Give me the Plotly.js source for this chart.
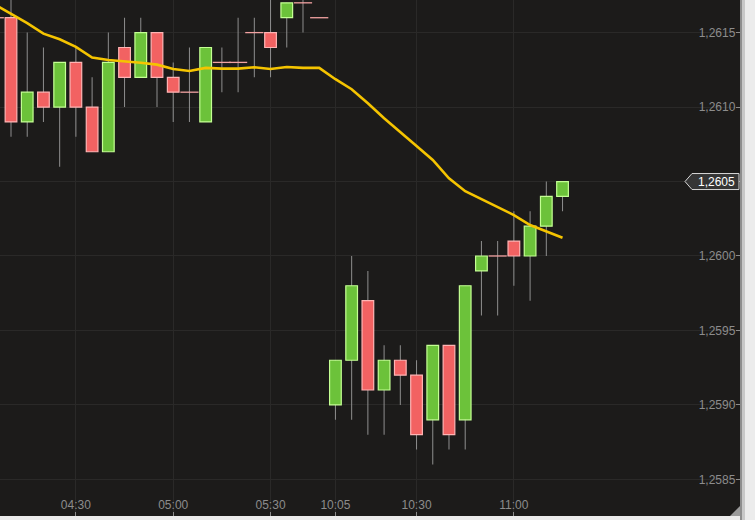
<!DOCTYPE html>
<html>
<head>
<meta charset="utf-8">
<script src="https://cdn.plot.ly/plotly-3.0.1.min.js"></script>
<style>html,body{margin:0;padding:0;background:#e9e9e9;}#chart{width:755px;height:520px;}</style>
</head>
<body>
<div id="chart"></div>
<script>
// 5-minute candles (two sessions)
const times = ["04:05","04:10","04:15","04:20","04:25","04:30","04:35","04:40","04:45","04:50","04:55",
  "05:00","05:05","05:10","05:15","05:20","05:25","05:30","05:35","05:40","05:45",
  "10:05","10:10","10:15","10:20","10:25","10:30","10:35","10:40","10:45","10:50","10:55",
  "11:00","11:05","11:10","11:15"];
const open  = [1.2616,1.2616,1.2609,1.2611,1.2610,1.2613,1.2610,1.2607,1.2614,1.2612,1.2615,
  1.2612,1.2611,1.2609,1.2613,1.2613,1.2615,1.2615,1.2616,1.2617,1.2616,
  1.2590,1.2593,1.2597,1.2591,1.2593,1.2592,1.2589,1.2594,1.2589,1.2599,1.2600,
  1.2601,1.2600,1.2602,1.2604];
const high  = [1.2617,1.2618,1.2615,1.2614,1.2613,1.2614,1.2612,1.2615,1.2616,1.2616,1.2615,
  1.2613,1.2614,1.2614,1.2614,1.2616,1.2616,1.2618,1.2617,1.2618,1.2616,
  1.2593,1.2600,1.2599,1.2594,1.2594,1.2593,1.2594,1.2594,1.2598,1.2601,1.2601,
  1.2603,1.2603,1.2605,1.2605];
const low   = [1.2615,1.2608,1.2608,1.2609,1.2606,1.2608,1.2607,1.2607,1.2610,1.2612,1.2610,
  1.2609,1.2609,1.2609,1.2611,1.2611,1.2612,1.2612,1.2614,1.2615,1.2616,
  1.2589,1.2589,1.2588,1.2588,1.2590,1.2587,1.2586,1.2587,1.2587,1.2596,1.2596,
  1.2598,1.2597,1.2600,1.2603];
const close = [1.2616,1.2609,1.2611,1.2610,1.2613,1.2610,1.2607,1.2613,1.2612,1.2615,1.2612,
  1.2611,1.2611,1.2614,1.2613,1.2613,1.2615,1.2614,1.2617,1.2617,1.2616,
  1.2593,1.2598,1.2591,1.2593,1.2592,1.2588,1.2594,1.2588,1.2598,1.2600,1.2600,
  1.2600,1.2602,1.2604,1.2605];
// moving average line
const maValues = [1.261688,1.261625,1.261563,1.261493,1.261455,1.261404,1.261332,1.261316,1.261308,1.261298,1.261285,
  1.261256,1.261242,1.261263,1.261258,1.261258,1.261267,1.261256,1.261269,1.261263,1.261263,
  1.261187,1.261120,1.261026,1.260925,1.260835,1.260739,1.260645,1.260522,1.260435,1.260381,1.260327,
  1.260275,1.260208,1.260163,1.260123];
const tickTimes = ["04:30","05:00","05:30","10:05","10:30","11:00"];

const UP_FILL = '#6cc23a', UP_LINE = '#c4ff94';
const DN_FILL = '#f26262', DN_LINE = '#ffb4b4';
const DOJI = '#f2a2a2', WICK = '#8e8e8e';

const EPS = 1e-7;
const isDoji = close.map((c, i) => Math.abs(c - open[i]) < EPS);
const bodyBase = open.map((o, i) => isDoji[i] ? null : Math.min(o, close[i]));
const bodyLen = open.map((o, i) => isDoji[i] ? null : Math.abs(close[i] - o));
const bodyFill = open.map((o, i) => close[i] >= o ? UP_FILL : DN_FILL);
const bodyLine = open.map((o, i) => close[i] >= o ? UP_LINE : DN_LINE);

const wicks = {
  type: 'bar', x: times, base: low, y: high.map((h, i) => h - low[i]),
  width: 0.062, marker: {color: WICK, line: {width: 0}}, hoverinfo: 'skip'
};
const bodies = {
  type: 'bar', x: times, base: bodyBase, y: bodyLen,
  width: 0.72, marker: {color: bodyFill, line: {color: bodyLine, width: 1.2}}, hoverinfo: 'skip'
};
const dojis = {
  type: 'scatter', mode: 'markers',
  x: times.filter((t, i) => isDoji[i]), y: close.filter((c, i) => isDoji[i]),
  marker: {symbol: 'line-ew', size: 13, line: {color: DOJI, width: 1.3}}, hoverinfo: 'skip'
};
const ma = {
  type: 'scatter', mode: 'lines', x: times, y: maValues,
  line: {color: '#f5c400', width: 2.6}, hoverinfo: 'skip'
};

const last = close[close.length - 1];
const fmt = v => v.toFixed(4).replace('.', ',');
const tickFont = {family: 'Liberation Sans, Arial, sans-serif', size: 12, color: '#8c8c8c'};

const layout = {
  width: 755, height: 520,
  margin: {l: 0, r: 15, t: 0, b: 4, pad: 0},
  paper_bgcolor: '#ececec', plot_bgcolor: '#1c1b1a',
  separators: ',.',
  showlegend: false, hovermode: false, barmode: 'overlay',
  xaxis: {
    type: 'category', range: [0.322, 45.94], tickmode: 'array', tickvals: tickTimes, ticktext: tickTimes,
    ticks: 'inside', ticklen: 4, tickcolor: '#8c8c8c', ticklabelposition: 'inside',
    showgrid: true, gridcolor: '#2a2928', gridwidth: 1, zeroline: false, showline: false,
    tickfont: tickFont, fixedrange: true
  },
  yaxis: {
    side: 'right', range: [1.258254, 1.261719], tick0: 1.2585, dtick: 0.0005, tickformat: '.4f',
    ticks: 'inside', ticklen: 4, tickcolor: '#8c8c8c', ticklabelposition: 'inside',
    showgrid: true, gridcolor: '#2a2928', gridwidth: 1, zeroline: false, showline: false,
    tickfont: tickFont, fixedrange: true
  },
  shapes: [
    {type: 'rect', xref: 'paper', xsizemode: 'pixel', xanchor: 1, x0: 0, x1: 2, yref: 'paper', y0: -0.02, y1: 1.02,
     fillcolor: '#8e8e8e', line: {width: 0}},
    {type: 'rect', xref: 'paper', xsizemode: 'pixel', xanchor: 1, x0: 2, x1: 5, yref: 'paper', y0: -0.02, y1: 1.02,
     fillcolor: '#c8c8c8', line: {width: 0}},
    {type: 'path', xref: 'paper', xsizemode: 'pixel', xanchor: 1, yref: 'paper', ysizemode: 'pixel', yanchor: 0,
     path: 'M -10,0 L 0,0 L 0,10 Z', fillcolor: '#9a9a9a', line: {width: 0}},
    {type: 'path', xref: 'paper', xsizemode: 'pixel', xanchor: 1, yref: 'y', ysizemode: 'pixel', yanchor: last,
     path: 'M -55,0 L -48,8 L -1,8 L -1,-8 L -48,-8 Z', fillcolor: '#353535', line: {color: '#d6d6d6', width: 1}}
  ],
  annotations: [
    {xref: 'paper', x: 1, xanchor: 'right', xshift: -3, yref: 'y', y: last, yanchor: 'middle',
     text: fmt(last), showarrow: false, font: {family: 'Liberation Sans, Arial, sans-serif', size: 12, color: '#ffffff'}}
  ]
};

Plotly.newPlot('chart', [wicks, bodies, dojis, ma], layout, {displayModeBar: false, staticPlot: true});
</script>
</body>
</html>
